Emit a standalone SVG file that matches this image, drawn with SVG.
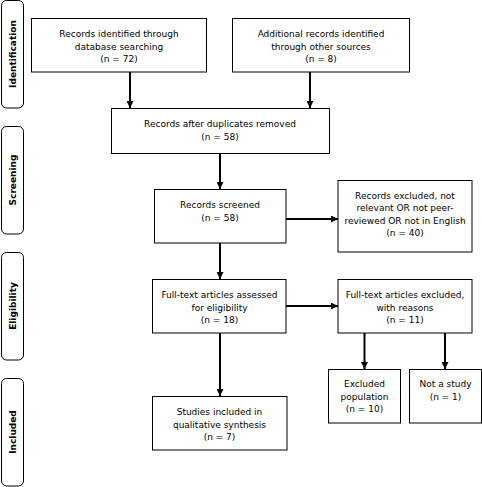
<svg xmlns="http://www.w3.org/2000/svg" width="482" height="487" viewBox="0 0 482 487">
<style>
.box{fill:#fff;stroke:#000;stroke-width:1}
.phase{fill:#fff;stroke:#000;stroke-width:1}
text{font-family:"DejaVu Sans","Verdana",sans-serif;font-size:9px;fill:#000;text-anchor:middle}
.ph{font-weight:bold}
.con{stroke:#000;stroke-width:2;fill:none}
</style>
<defs>
<marker id="ah" markerUnits="userSpaceOnUse" markerWidth="7" markerHeight="7" viewBox="0 0 7 7" refX="7" refY="3.5" orient="auto">
<path d="M0,0 L7,3.5 L0,7 Z" fill="#000"/>
</marker>
</defs>
<rect x="0" y="0" width="482" height="487" fill="#fff"/>
<g id="phases">
<g id="phase-identification"><rect class="phase" x="1.5" y="0.5" width="22" height="107.5" rx="5"/><text class="ph" transform="translate(15.5,54) rotate(-90)">Identification</text></g>
<g id="phase-screening"><rect class="phase" x="1.5" y="126.5" width="22" height="107.5" rx="5"/><text class="ph" transform="translate(15.5,180) rotate(-90)">Screening</text></g>
<g id="phase-eligibility"><rect class="phase" x="1.5" y="252.5" width="22" height="107.5" rx="5"/><text class="ph" transform="translate(15.5,306) rotate(-90)">Eligibility</text></g>
<g id="phase-included"><rect class="phase" x="1.5" y="378.5" width="22" height="107.5" rx="5"/><text class="ph" transform="translate(15.5,432) rotate(-90)">Included</text></g>
</g>
<g id="connectors">
<line class="con" x1="130" y1="72" x2="130" y2="108" marker-end="url(#ah)"/>
<line class="con" x1="310" y1="72" x2="310" y2="108" marker-end="url(#ah)"/>
<line class="con" x1="220" y1="153" x2="220" y2="189" marker-end="url(#ah)"/>
<line class="con" x1="286" y1="219" x2="338" y2="219" marker-end="url(#ah)"/>
<line class="con" x1="220" y1="243" x2="220" y2="279" marker-end="url(#ah)"/>
<line class="con" x1="286" y1="306" x2="338" y2="306" marker-end="url(#ah)"/>
<line class="con" x1="220" y1="333" x2="220" y2="396" marker-end="url(#ah)"/>
<line class="con" x1="364.5" y1="333" x2="364.5" y2="369" marker-end="url(#ah)"/>
<line class="con" x1="445" y1="333" x2="445" y2="369" marker-end="url(#ah)"/>
</g>
<g id="n-db"><rect class="box" x="31.5" y="18.5" width="175" height="53.5"/><text x="119" y="37">Records identified through</text><text x="119" y="49.5">database searching</text><text x="119" y="62">(n = 72)</text></g>
<g id="n-other"><rect class="box" x="232.5" y="18.5" width="177" height="53.5"/><text x="321" y="37">Additional records identified</text><text x="321" y="49.5">through other sources</text><text x="321" y="62">(n = 8)</text></g>
<g id="n-dup"><rect class="box" x="111.5" y="108.5" width="218" height="45"/><text x="220" y="127">Records after duplicates removed</text><text x="220" y="139.5">(n = 58)</text></g>
<g id="n-screened"><rect class="box" x="154.5" y="189.5" width="131.5" height="53.5"/><text x="220" y="208">Records screened</text><text x="220" y="220.5">(n = 58)</text></g>
<g id="n-excl1"><rect class="box" x="338" y="180.5" width="134" height="71.5"/><text x="405" y="198.5">Records excluded, not</text><text x="405" y="211">relevant OR not peer-</text><text x="405" y="223.5">reviewed OR not in English</text><text x="405" y="236">(n = 40)</text></g>
<g id="n-full"><rect class="box" x="152.5" y="279.5" width="133.5" height="53.5"/><text x="219.5" y="298">Full-text articles assessed</text><text x="219.5" y="310.5">for eligibility</text><text x="219.5" y="323">(n = 18)</text></g>
<g id="n-excl2"><rect class="box" x="338" y="279.5" width="134" height="53.5"/><text x="405" y="298">Full-text articles excluded,</text><text x="405" y="310.5">with reasons</text><text x="405" y="323">(n = 11)</text></g>
<g id="n-incl"><rect class="box" x="152.5" y="396.5" width="134.5" height="53.5"/><text x="219.5" y="415">Studies included in</text><text x="219.5" y="427.5">qualitative synthesis</text><text x="219.5" y="440">(n = 7)</text></g>
<g id="n-pop"><rect class="box" x="328.5" y="369.5" width="72" height="53.5"/><text x="364.5" y="387">Excluded</text><text x="364.5" y="399.5">population</text><text x="364.5" y="412">(n = 10)</text></g>
<g id="n-notstudy"><rect class="box" x="409.5" y="369.5" width="72" height="53.5"/><text x="445.5" y="387">Not a study</text><text x="445.5" y="399.5">(n = 1)</text></g>
</svg>
